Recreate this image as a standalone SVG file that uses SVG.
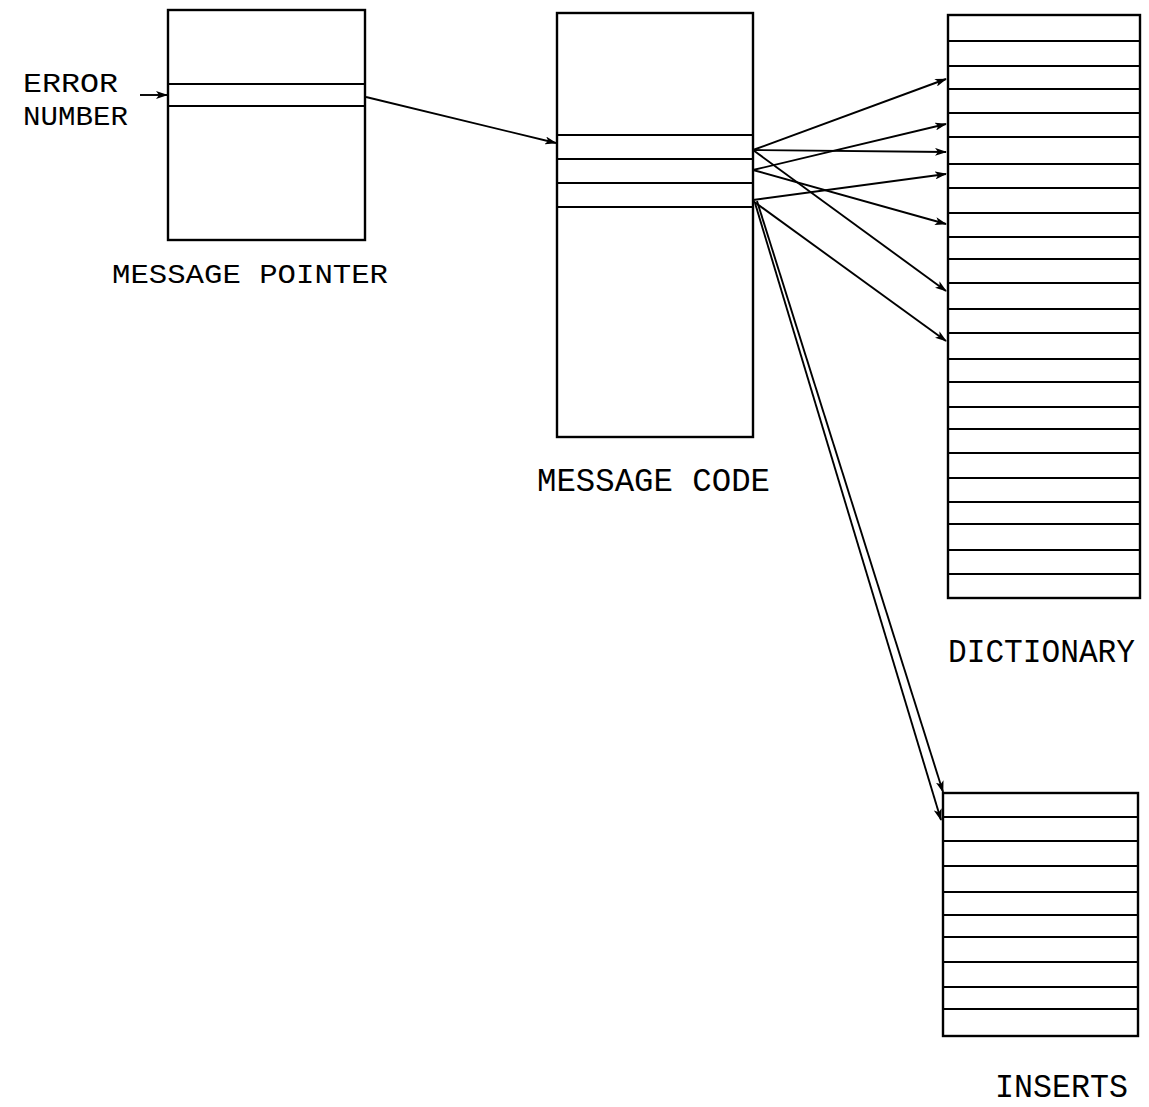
<svg xmlns="http://www.w3.org/2000/svg" width="1149" height="1107" viewBox="0 0 1149 1107">
<style>
.box{fill:none;stroke:#000;stroke-width:2.4}
.row{stroke:#000;stroke-width:2.2}
.c{fill:none;stroke:#000;stroke-width:1.9}
.t{font-family:"Liberation Mono","Courier New",monospace;fill:#000}
</style>
<defs>
<marker id="ah" viewBox="0 0 12 8" refX="11" refY="4" markerWidth="12" markerHeight="8" markerUnits="userSpaceOnUse" orient="auto">
<path d="M0,0 L12,4 L0,8 L3,4 Z" fill="#000"/>
</marker>
</defs>
<rect width="1149" height="1107" fill="#fff"/>

<g id="message-pointer">
<rect class="box" x="168" y="10" width="197" height="230"/>
<line class="row" x1="168" y1="84" x2="365" y2="84"/>
<line class="row" x1="168" y1="106" x2="365" y2="106"/>
<text class="t" x="112" y="283" font-size="28" textLength="276" lengthAdjust="spacingAndGlyphs">MESSAGE POINTER</text>
</g>

<g id="error-number">
<text class="t" x="23" y="92" font-size="28" textLength="95" lengthAdjust="spacingAndGlyphs">ERROR</text>
<text class="t" x="23" y="125" font-size="28" textLength="105" lengthAdjust="spacingAndGlyphs">NUMBER</text>
</g>

<g id="message-code">
<rect class="box" x="557" y="13" width="196" height="424"/>
<line class="row" x1="557" y1="135" x2="753" y2="135"/>
<line class="row" x1="557" y1="159" x2="753" y2="159"/>
<line class="row" x1="557" y1="183" x2="753" y2="183"/>
<line class="row" x1="557" y1="207" x2="753" y2="207"/>
<text class="t" x="537" y="491" font-size="33" textLength="233" lengthAdjust="spacingAndGlyphs">MESSAGE CODE</text>
</g>

<g id="dictionary">
<rect class="box" x="948" y="15" width="192" height="583"/>
<line class="row" x1="948" y1="41" x2="1140" y2="41"/>
<line class="row" x1="948" y1="66" x2="1140" y2="66"/>
<line class="row" x1="948" y1="89" x2="1140" y2="89"/>
<line class="row" x1="948" y1="113" x2="1140" y2="113"/>
<line class="row" x1="948" y1="137" x2="1140" y2="137"/>
<line class="row" x1="948" y1="164" x2="1140" y2="164"/>
<line class="row" x1="948" y1="188" x2="1140" y2="188"/>
<line class="row" x1="948" y1="213" x2="1140" y2="213"/>
<line class="row" x1="948" y1="237" x2="1140" y2="237"/>
<line class="row" x1="948" y1="259" x2="1140" y2="259"/>
<line class="row" x1="948" y1="283" x2="1140" y2="283"/>
<line class="row" x1="948" y1="309" x2="1140" y2="309"/>
<line class="row" x1="948" y1="333" x2="1140" y2="333"/>
<line class="row" x1="948" y1="359" x2="1140" y2="359"/>
<line class="row" x1="948" y1="382" x2="1140" y2="382"/>
<line class="row" x1="948" y1="407" x2="1140" y2="407"/>
<line class="row" x1="948" y1="429" x2="1140" y2="429"/>
<line class="row" x1="948" y1="453" x2="1140" y2="453"/>
<line class="row" x1="948" y1="478" x2="1140" y2="478"/>
<line class="row" x1="948" y1="502" x2="1140" y2="502"/>
<line class="row" x1="948" y1="524" x2="1140" y2="524"/>
<line class="row" x1="948" y1="550" x2="1140" y2="550"/>
<line class="row" x1="948" y1="574" x2="1140" y2="574"/>
<text class="t" x="948" y="662" font-size="33" textLength="187" lengthAdjust="spacingAndGlyphs">DICTIONARY</text>
</g>

<g id="inserts">
<rect class="box" x="943" y="793" width="195" height="243"/>
<line class="row" x1="943" y1="817" x2="1138" y2="817"/>
<line class="row" x1="943" y1="841" x2="1138" y2="841"/>
<line class="row" x1="943" y1="866" x2="1138" y2="866"/>
<line class="row" x1="943" y1="892" x2="1138" y2="892"/>
<line class="row" x1="943" y1="915" x2="1138" y2="915"/>
<line class="row" x1="943" y1="937" x2="1138" y2="937"/>
<line class="row" x1="943" y1="962" x2="1138" y2="962"/>
<line class="row" x1="943" y1="987" x2="1138" y2="987"/>
<line class="row" x1="943" y1="1009" x2="1138" y2="1009"/>
<text class="t" x="995" y="1097" font-size="33" textLength="133" lengthAdjust="spacingAndGlyphs">INSERTS</text>
</g>

<g id="connectors">
<line class="c" x1="140" y1="95" x2="167" y2="95" marker-end="url(#ah)"/>
<line class="c" x1="366" y1="97" x2="556" y2="143" marker-end="url(#ah)"/>
<line class="c" x1="753" y1="150" x2="946" y2="79" marker-end="url(#ah)"/>
<line class="c" x1="753" y1="170" x2="946" y2="124" marker-end="url(#ah)"/>
<line class="c" x1="753" y1="150" x2="946" y2="152" marker-end="url(#ah)"/>
<line class="c" x1="753" y1="200" x2="946" y2="174" marker-end="url(#ah)"/>
<line class="c" x1="753" y1="170" x2="946" y2="224" marker-end="url(#ah)"/>
<line class="c" x1="753" y1="150" x2="946" y2="291" marker-end="url(#ah)"/>
<line class="c" x1="753" y1="201" x2="946" y2="341" marker-end="url(#ah)"/>
<line class="c" x1="755" y1="203" x2="941" y2="820" marker-end="url(#ah)"/>
<line class="c" x1="757" y1="201" x2="943" y2="792" marker-end="url(#ah)"/>
</g>
</svg>
